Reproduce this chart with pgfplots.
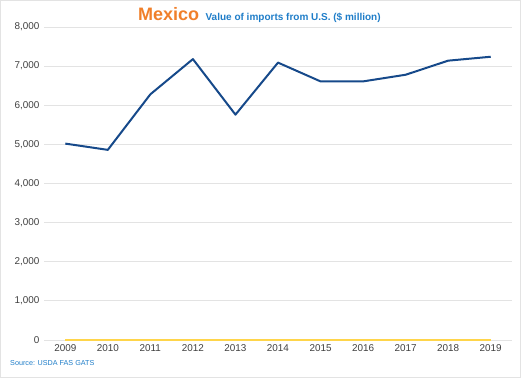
\documentclass[border=0pt]{standalone}
\usepackage{pgfplots}
\pgfplotsset{compat=1.18}
\usepackage{fontspec}
\setmainfont{Liberation Sans}
\definecolor{lineblue}{HTML}{16498A}
\definecolor{lineyellow}{HTML}{FFD54A}
\definecolor{gridgray}{HTML}{E3E3E3}
\definecolor{titleorange}{HTML}{F07F2A}
\definecolor{subblue}{HTML}{1F7DC8}
\definecolor{ticktext}{HTML}{404040}
\begin{document}
\begin{tikzpicture}[x=1pt,y=1pt]
\useasboundingbox (-44,-38) rectangle (477,340);
\draw[draw=gridgray, line width=1pt] (-43,-37) rectangle (476,339);
\begin{axis}[
  at={(0,0)}, anchor=south west,
  scale only axis, width=468pt, height=313pt,
  xmin=2008.5, xmax=2019.5, ymin=0, ymax=8000,
  xtick={2009,...,2019},
  xticklabel style={/pgf/number format/1000 sep=},
  ytick={0,1000,...,8000},
  yticklabel style={/pgf/number format/1000 sep={,}},
  /pgf/number format/assume math mode=true,
  ymajorgrids, major grid style={gridgray, line width=0.8pt},
  axis line style={draw=none},
  tick style={draw=none},
  ticklabel style={font=\fontsize{9.9}{11}\selectfont, text=ticktext},
  xticklabel style={yshift=-1pt},
  yticklabel style={xshift=-1pt},
  clip=false,
]
\addplot[lineyellow, line width=2pt] coordinates {
(2009,5) (2010,5) (2011,5) (2012,5) (2013,5) (2014,5) (2015,5) (2016,5) (2017,5) (2018,5) (2019,5)};
\addplot[lineblue, line width=2pt, line join=round] coordinates {
(2009,5020) (2010,4860) (2011,6280) (2012,7180) (2013,5760) (2014,7090) (2015,6610) (2016,6610) (2017,6780) (2018,7140) (2019,7240)};
\end{axis}
\node[anchor=base west, inner sep=0, text=titleorange, font=\fontsize{18}{20}\bfseries\selectfont] (t) at (94,319) {Mexico};
\node[anchor=base west, inner sep=0, text=subblue, font=\fontsize{10}{12}\bfseries\selectfont] at ([xshift=6pt]t.base east) {Value of imports from U.S. (\$ million)};
\node[anchor=west, inner sep=0, text=subblue, font=\fontsize{7.2}{8}\selectfont] at (-34,-23) {Source: USDA FAS GATS};
\end{tikzpicture}
\end{document}
